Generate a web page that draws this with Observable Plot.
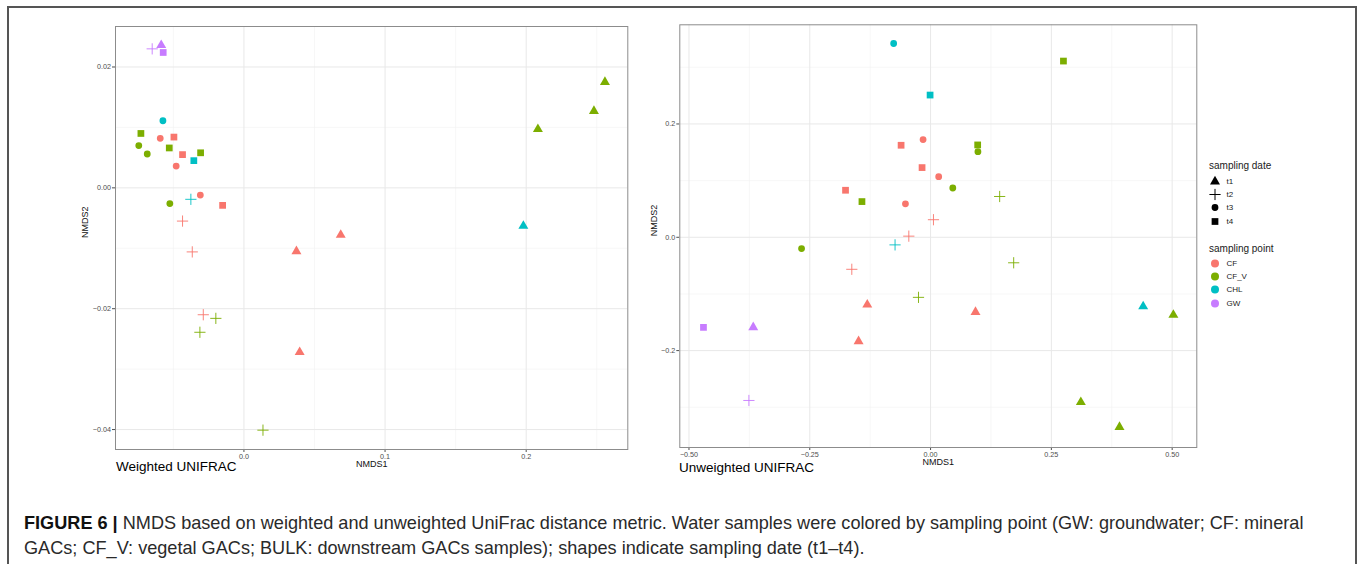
<!DOCTYPE html>
<html>
<head>
<meta charset="utf-8">
<script src="https://cdn.jsdelivr.net/npm/d3@7"></script>
<script src="https://cdn.jsdelivr.net/npm/@observablehq/plot@0.6"></script>
<style>
  html, body { margin: 0; padding: 0; background: #fff; }
  #root { position: relative; width: 1360px; height: 564px; overflow: hidden; background: #fff;
          font-family: "Liberation Sans", Arial, Helvetica, sans-serif; }
  #frame { position: absolute; left: 7px; top: 6px; width: 1346px; height: 700px;
           border: 2px solid #555; border-bottom: none; }
  .panel { position: absolute; }
  .plab { position: absolute; font-size: 13.5px; line-height: 16px; color: #000; white-space: nowrap; }
  #legend { position: absolute; left: 1209px; top: 159px; color: #1a1a1a; }
  .ltitle { font-size: 10px; line-height: 14px; height: 14px; white-space: nowrap; }
  .lrow { display: flex; align-items: center; height: 13.1px; font-size: 8px; }
  .lrow svg { width: 12px; height: 13px; flex: none; overflow: visible; }
  .lrow span { margin-left: 5.5px; }
  .cap { position: absolute; left: 24px; font-size: 16.5px; line-height: 25px; color: #2a2a2a; white-space: nowrap; }
  .cap b { font-weight: bold; color: #111; }
</style>
</head>
<body>
<div id="root">
  <div id="frame"></div>
  <div id="left" class="panel" style="left:60px;top:10px"></div>
  <div id="right" class="panel" style="left:630px;top:10px"></div>
  <div class="plab" style="left:116px;top:459px">Weighted UNIFRAC</div>
  <div class="plab" style="left:679px;top:460px">Unweighted UNIFRAC</div>
  <div id="legend"></div>
  <div class="cap" id="cap1" style="top:511px"><b>FIGURE 6 |</b> NMDS based on weighted and unweighted UniFrac distance metric. Water samples were colored by sampling point (GW: groundwater; CF: mineral</div>
  <div class="cap" id="cap2" style="top:536px">GACs; CF_V: vegetal GACs; BULK: downstream GACs samples); shapes indicate sampling date (t1–t4).</div>
</div>
<script>
// ---------- data ----------
const pointNames = ["CF", "CF_V", "CHL", "GW"];
const pointColors = ["#F8766D", "#7CAE00", "#00BFC4", "#C77CFF"];
const dateNames = ["t1", "t2", "t3", "t4"];
const dateSymbols = ["triangle", "plus", "circle", "square"];

// Weighted UniFrac NMDS
const wPoint = ["GW","CF","CF","CF","CF_V","CF_V","CF_V","CHL",
                "GW","CHL","CF","CF","CF","CF_V","CF_V","CF_V",
                "CHL","CF","CF","CF","CF_V","CF_V","CF_V",
                "GW","CHL","CF","CF","CF","CF_V","CF_V","CF_V"];
const wDate = ["t1","t1","t1","t1","t1","t1","t1","t1",
               "t2","t2","t2","t2","t2","t2","t2","t2",
               "t3","t3","t3","t3","t3","t3","t3",
               "t4","t4","t4","t4","t4","t4","t4","t4"];
const wX = [-0.0586, 0.0686, 0.0372, 0.0395, 0.2558, 0.2480, 0.2083, 0.1980,
            -0.0650, -0.0376, -0.0435, -0.0366, -0.0288, -0.0199, -0.0312, 0.0135,
            -0.0574, -0.0593, -0.0480, -0.0309, -0.0745, -0.0685, -0.0525,
            -0.0572, -0.0355, -0.0496, -0.0435, -0.0151, -0.0730, -0.0529, -0.0307];
const wY = [0.0236, -0.0078, -0.0105, -0.0272, 0.0175, 0.0127, 0.0097, -0.0063,
            0.0230, -0.0019, -0.0055, -0.0106, -0.0210, -0.0216, -0.0239, -0.0401,
            0.0111, 0.0082, 0.0036, -0.0012, 0.0070, 0.0056, -0.0026,
            0.0224, 0.0045, 0.0084, 0.0055, -0.0029, 0.0090, 0.0066, 0.0058];
const wXDomain = [-0.091, 0.272];
const wYDomain = [-0.0433, 0.0267];
const wXTicks = [0, 0.1, 0.2];
const wYTicks = [-0.04, -0.02, 0, 0.02];
const wXMinor = [-0.05, 0.05, 0.15, 0.25];
const wYMinor = [-0.03, -0.01, 0.01];

// Unweighted UniFrac NMDS
const uPoint = ["GW","CF","CF","CF","CF_V","CF_V","CF_V","CHL",
                "GW","CHL","CF","CF","CF","CF_V","CF_V","CF_V",
                "CHL","CF","CF","CF","CF_V","CF_V","CF_V",
                "GW","CHL","CF","CF","CF","CF_V","CF_V","CF_V"];
const uDate = wDate;
const uX = [-0.367, -0.131, -0.149, 0.093, 0.5025, 0.311, 0.391, 0.440,
            -0.376, -0.0735, 0.006, -0.045, -0.163, -0.025, 0.143, 0.172,
            -0.0764, -0.0155, 0.0168, -0.052, -0.267, 0.098, 0.046,
            -0.470, -0.001, -0.061, -0.0176, -0.176, -0.142, 0.0975, 0.275];
const uY = [-0.159, -0.119, -0.1835, -0.132, -0.137, -0.291, -0.335, -0.122,
            -0.288, -0.0134, 0.031, 0.002, -0.0565, -0.106, 0.072, -0.045,
            0.342, 0.1725, 0.107, 0.059, -0.020, 0.151, 0.087,
            -0.159, 0.251, 0.1624, 0.123, 0.083, 0.063, 0.163, 0.311];
const uXDomain = [-0.519, 0.551];
const uYDomain = [-0.371, 0.375];
const uXTicks = [-0.5, -0.25, 0, 0.25, 0.5];
const uYTicks = [-0.2, 0, 0.2];
const uXMinor = [-0.375, -0.125, 0.125, 0.375];
const uYMinor = [-0.3, -0.1, 0.1, 0.3];

// ---------- drawing ----------
function panel(opts) {
  const rows = opts.xs.map((x, i) => ({x, y: opts.ys[i], point: opts.points[i], date: opts.dates[i]}));
  const filled = (date, r) => Plot.dot(rows, {
    filter: d => d.date === date, x: "x", y: "y",
    symbol: "date", fill: "point", stroke: "none", r
  });
  return Plot.plot({
    width: 580, height: 480,
    marginLeft: opts.ml, marginRight: opts.mr, marginTop: opts.mt, marginBottom: opts.mb,
    style: {background: "transparent", fontFamily: "'Liberation Sans', Arial, sans-serif",
            fontSize: "7.2px", color: "#4d4d4d", overflow: "visible"},
    x: {domain: opts.xDomain, ticks: opts.xTicks, tickFormat: d3.format(opts.xFmt),
        label: null, tickSize: 3, tickPadding: 1},
    y: {domain: opts.yDomain, ticks: opts.yTicks, tickFormat: d3.format(opts.yFmt),
        label: null, tickSize: 3, tickPadding: 1.5},
    color: {domain: pointNames, range: pointColors},
    symbol: {domain: dateNames, range: dateSymbols},
    marks: [
      Plot.ruleX(opts.xMinor, {stroke: "#f1f1f1", strokeWidth: 0.6}),
      Plot.ruleY(opts.yMinor, {stroke: "#f1f1f1", strokeWidth: 0.6}),
      Plot.ruleX(opts.xTicks, {stroke: "#e8e8e8", strokeWidth: 1}),
      Plot.ruleY(opts.yTicks, {stroke: "#e8e8e8", strokeWidth: 1}),
      Plot.frame({stroke: "#8c8c8c", strokeWidth: 1}),
      filled("t4", 3.8),
      filled("t3", 3.4),
      filled("t1", 3.7),
      Plot.dot(rows, {filter: d => d.date === "t2", x: "x", y: "y",
        symbol: "date", stroke: "point", fill: "none", r: 3.7, strokeWidth: 0.9}),
      Plot.text(["NMDS1"], {text: d => d, frameAnchor: "bottom", dy: 17.8,
        fontSize: 9, fill: "#111"}),
      Plot.text(["NMDS2"], {text: d => d, frameAnchor: "left", dx: opts.ylabDx, rotate: -90,
        fontSize: 9, fill: "#111"})
    ]
  });
}

document.getElementById("left").appendChild(panel({
  xs: wX, ys: wY, points: wPoint, dates: wDate,
  xDomain: wXDomain, yDomain: wYDomain, xTicks: wXTicks, yTicks: wYTicks,
  xMinor: wXMinor, yMinor: wYMinor, xFmt: ".1f", yFmt: ".2f",
  ml: 55, mr: 12.7, mt: 16, mb: 41, ylabDx: -30
}));
document.getElementById("right").appendChild(panel({
  xs: uX, ys: uY, points: uPoint, dates: uDate,
  xDomain: uXDomain, yDomain: uYDomain, xTicks: uXTicks, yTicks: uYTicks,
  xMinor: uXMinor, yMinor: uYMinor, xFmt: ".2f", yFmt: ".1f",
  ml: 49.3, mr: 13.7, mt: 14.3, mb: 43, ylabDx: -25.3
}));

// ---------- legend ----------
const legend = document.getElementById("legend");
function addTitle(t, marginTop) {
  const d = document.createElement("div");
  d.className = "ltitle"; d.textContent = t; d.style.marginTop = marginTop + "px";
  legend.appendChild(d);
}
function addRow(label, symType, size, color, stroke, marginTop) {
  const row = document.createElement("div");
  row.className = "lrow";
  if (marginTop) row.style.marginTop = marginTop + "px";
  const svg = d3.create("svg").attr("viewBox", "-6 -6.5 12 13");
  svg.append("path").attr("d", d3.symbol(symType, size)())
    .attr("fill", stroke ? "none" : color).attr("stroke", stroke ? color : "none")
    .attr("stroke-width", stroke ? 1 : 0);
  row.appendChild(svg.node());
  const s = document.createElement("span"); s.textContent = label;
  row.appendChild(s);
  legend.appendChild(row);
}
addTitle("sampling date", 0);
const symMap = {triangle: [d3.symbolTriangle, Math.PI * 3.7 * 3.7, false],
                plus: [d3.symbolPlus, Math.PI * 3.7 * 3.7, true],
                circle: [d3.symbolCircle, Math.PI * 3.4 * 3.4, false],
                square: [d3.symbolSquare, Math.PI * 3.8 * 3.8, false]};
dateNames.forEach((t, i) => {
  const [type, size, stroke] = symMap[dateSymbols[i]];
  addRow(t, type, size, "#000", stroke, i === 0 ? 2.2 : 0);
});
addTitle("sampling point", 14.2);
pointNames.forEach((p, i) => {
  addRow(p, d3.symbolCircle, Math.PI * 4 * 4, pointColors[i], false, i === 0 ? 1.5 : 0);
});

// ---------- caption fit ----------
const c1 = document.getElementById("cap1");
const w1 = c1.getBoundingClientRect().width;
const fs = 16.5 * 1281 / w1;
c1.style.fontSize = fs + "px";
document.getElementById("cap2").style.fontSize = fs + "px";
</script>
</body>
</html>
